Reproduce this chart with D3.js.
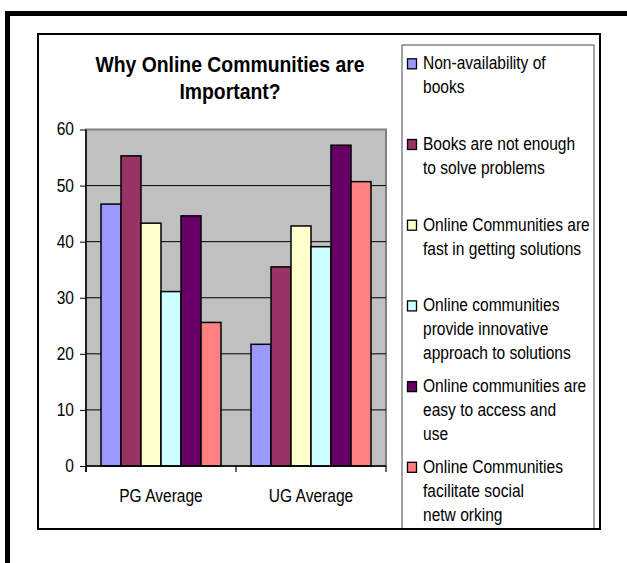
<!DOCTYPE html>
<html><head><meta charset="utf-8">
<script src="https://cdn.jsdelivr.net/npm/d3@7"></script>
<style>body{margin:0;background:#fff}svg{display:block}</style>
</head><body>
<script>
const categories = ["PG Average", "UG Average"];
const seriesNames = [
  "Non-availability of books",
  "Books are not enough to solve problems",
  "Online Communities are fast in getting solutions",
  "Online communities provide innovative approach to solutions",
  "Online communities are easy to access and use",
  "Online Communities facilitate social networking"
];
const legendLines = [
  ["Non-availability of", "books"],
  ["Books are not enough", "to solve problems"],
  ["Online Communities are", "fast in getting solutions"],
  ["Online communities", "provide innovative", "approach to solutions"],
  ["Online communities are", "easy to access and", "use"],
  ["Online Communities", "facilitate social", "netw orking"]
];
const pgValues = [46.7, 55.3, 43.3, 31.1, 44.6, 25.6];
const ugValues = [21.7, 35.5, 42.8, 39.1, 57.2, 50.7];
const yTicks = [0, 10, 20, 30, 40, 50, 60];
const colors = ["#9999FF", "#993366", "#FFFFCC", "#CCFFFF", "#660066", "#FF8080"];
const titleLines = ["Why Online Communities are", "Important?"];

const W = 627, H = 563;
const svg = d3.select("body").append("svg").attr("width", W).attr("height", H);
const FONT = "'Liberation Sans', Arial, sans-serif";

function txt(g, s, x, y, opts = {}) {
  const sx = opts.sx || 0.85;
  return g.append("text")
    .attr("transform", `translate(${x},${y}) scale(${sx},1)`)
    .attr("text-anchor", opts.anchor || "start")
    .attr("dominant-baseline", opts.baseline || "auto")
    .attr("font-family", FONT)
    .attr("font-size", opts.size || 18.3)
    .attr("font-weight", opts.weight || "normal")
    .attr("fill", "#000")
    .text(s);
}

// outer thick frame (extends beyond window on right/bottom)
svg.append("rect").attr("x", 7.5).attr("y", 13.5).attr("width", 700).attr("height", 700)
  .attr("fill", "none").attr("stroke", "#000").attr("stroke-width", 5);

// chart box
svg.append("rect").attr("x", 38).attr("y", 34).attr("width", 562).attr("height", 495)
  .attr("fill", "#fff").attr("stroke", "#000").attr("stroke-width", 2);

// title
titleLines.forEach((t, i) => txt(svg, t, 230, 71.7 + i * 27.3, {anchor: "middle", size: 21.3, weight: "bold", sx: 0.91}));

// scales
const plotL = 86, plotR = 386;
const y = d3.scaleLinear().domain([0, 60]).range([466, 129.5]);
const x0 = d3.scaleBand().domain(categories).range([plotL, plotR]).paddingInner(0).paddingOuter(0);
const x1 = d3.scaleBand().domain(d3.range(seriesNames.length)).range([0, x0.bandwidth()]).paddingInner(0).paddingOuter(0.75);

// plot area
svg.append("rect").attr("x", plotL).attr("y", y(60)).attr("width", plotR - plotL).attr("height", y(0) - y(60))
  .attr("fill", "#C0C0C0").attr("stroke", "#808080").attr("stroke-width", 2);

// gridlines
svg.append("g").selectAll("line").data(yTicks.filter(d => d > 0 && d < 60)).join("line")
  .attr("x1", plotL).attr("x2", plotR).attr("y1", d => y(d)).attr("y2", d => y(d))
  .attr("stroke", "#000").attr("stroke-width", 1);

// bars
const data = [pgValues, ugValues];
const groups = svg.append("g").selectAll("g").data(categories).join("g")
  .attr("transform", d => `translate(${x0(d)},0)`);
groups.selectAll("rect").data((d, ci) => data[ci].map((v, si) => ({v, si}))).join("rect")
  .attr("x", d => x1(d.si)).attr("width", x1.bandwidth())
  .attr("y", d => y(d.v)).attr("height", d => y(0) - y(d.v))
  .attr("fill", d => colors[d.si]).attr("stroke", "#000").attr("stroke-width", 1.5);

// y axis
const yAxis = svg.append("g").attr("transform", `translate(${plotL},0)`)
  .call(d3.axisLeft(y).tickValues(yTicks).tickSize(6).tickFormat(""));
yAxis.select(".domain").attr("stroke", "#000").attr("stroke-width", 1.5).attr("d", `M0,${y(60)}V${y(0)+6}`);
yAxis.selectAll(".tick line").attr("stroke", "#000");
yTicks.forEach(t => txt(svg, String(t), 74, y(t), {anchor: "end", baseline: "central"}));

// x axis
const xAxis = svg.append("g").attr("transform", `translate(0,${y(0)})`)
  .call(d3.axisBottom(x0).tickSize(0).tickFormat(""));
xAxis.select(".domain").attr("stroke", "#000").attr("stroke-width", 1.5).attr("d", `M${plotL},0H${plotR}`);
const xTickPos = [plotL, x0(categories[1]), plotR];
svg.append("g").selectAll("line").data(xTickPos).join("line")
  .attr("x1", d => d).attr("x2", d => d).attr("y1", y(0)).attr("y2", y(0) + 6)
  .attr("stroke", "#000").attr("stroke-width", 1.2);
categories.forEach(c => txt(svg, c, x0(c) + x0.bandwidth() / 2, 501.7, {anchor: "middle"}));

// legend
svg.append("rect").attr("x", 402).attr("y", 45).attr("width", 192).attr("height", 484)
  .attr("fill", "#fff").attr("stroke", "#666").attr("stroke-width", 1.2);
legendLines.forEach((lines, i) => {
  const base = 69.3 + i * 80.7;
  svg.append("rect").attr("x", 407.5).attr("y", base - 10.5).attr("width", 9).attr("height", 10)
    .attr("fill", colors[i]).attr("stroke", "#000").attr("stroke-width", 1.3);
  lines.forEach((l, j) => txt(svg, l, 423, base + j * 24));
});
// redraw chart box border on top
svg.append("rect").attr("x", 38).attr("y", 34).attr("width", 562).attr("height", 495)
  .attr("fill", "none").attr("stroke", "#000").attr("stroke-width", 2);
</script>
</body></html>
